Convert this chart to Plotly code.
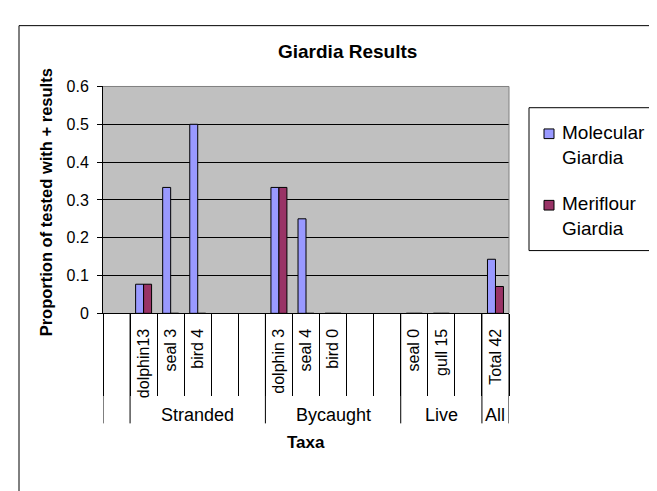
import plotly.graph_objects as go

W, H = 657, 491

# ---- data ----
taxa = ["", "dolphin13", "seal 3", "bird 4", "", "", "dolphin 3", "seal 4", "bird 0",
        "", "", "seal 0", "gull 15", "", "Total 42"]
group_names = ["", "Stranded", "Bycaught", "Live", "All"]
group_sizes = [1, 5, 5, 3, 1]
molecular = [None, 0.077, 0.333, 0.5, None, None, 0.333, 0.25, 0, None, None, 0, 0, None, 0.143]
meriflour = [None, 0.077, 0, 0, None, None, 0.333, 0, 0, None, None, 0, 0, None, 0.071]
y_ticks = [0, 0.1, 0.2, 0.3, 0.4, 0.5, 0.6]
y_tick_labels = ["0", "0.1", "0.2", "0.3", "0.4", "0.5", "0.6"]
series_names = ["Molecular<br>Giardia", "Meriflour<br>Giardia"]
colors = ["#9999FF", "#993366"]

FONT = "Liberation Sans, Arial, sans-serif"

# layout geometry (pixels)
L, R, T, B = 95, 501, 73, 308


def px(x):
    return x / W


def py(y):
    return 1 - y / H


xs = list(range(len(taxa)))

fig = go.Figure()
for vals, name, col in zip([molecular, meriflour], series_names, colors):
    fig.add_trace(go.Bar(
        x=xs, y=vals, name=name.replace("<br>", " "),
        marker=dict(color=col, line=dict(color="black", width=1)),
        showlegend=False,
    ))

shapes = []
# outer chart border (extends beyond the crop on right/bottom)
shapes.append(dict(type="rect", xref="paper", yref="paper",
                   x0=px(11), x1=px(W + 30), y0=py(H + 30), y1=py(10),
                   line=dict(color="black", width=1), layer="below"))
# plot area top and right border (gray)
shapes.append(dict(type="line", xref="paper", yref="paper",
                   x0=px(L), x1=px(R), y0=py(T), y1=py(T),
                   line=dict(color="#808080", width=1), layer="above"))
shapes.append(dict(type="line", xref="paper", yref="paper",
                   x0=px(R), x1=px(R), y0=py(T), y1=py(B),
                   line=dict(color="#808080", width=1), layer="above"))
# group divider lines
bounds = [-0.5]
for s in group_sizes:
    bounds.append(bounds[-1] + s)
for b in bounds:
    shapes.append(dict(type="line", xref="x", yref="paper",
                       x0=b, x1=b, y0=py(422), y1=py(B),
                       line=dict(color="black", width=1)))

annotations = []
# group labels
for i, g in enumerate(group_names):
    if g:
        annotations.append(dict(text=g, xref="x", yref="paper",
                                x=(bounds[i] + bounds[i + 1]) / 2, y=py(413),
                                xanchor="center", yanchor="middle", showarrow=False,
                                font=dict(family=FONT, size=18, color="black")))
# titles
annotations.append(dict(text="<b>Giardia Results</b>", xref="paper", yref="paper",
                        x=px(339.5), y=py(37), xanchor="center", yanchor="middle",
                        showarrow=False, font=dict(family=FONT, size=19, color="black")))
annotations.append(dict(text="<b>Proportion of tested with + results</b>", xref="paper", yref="paper",
                        x=px(38), y=py(193), xanchor="center", yanchor="middle", textangle=-90,
                        showarrow=False, font=dict(family=FONT, size=16.5, color="black")))
annotations.append(dict(text="<b>Taxa</b>", xref="paper", yref="paper",
                        x=px(298), y=py(442), xanchor="center", yanchor="middle",
                        showarrow=False, font=dict(family=FONT, size=17, color="black")))

# legend (drawn manually to match box layout)
shapes.append(dict(type="rect", xref="paper", yref="paper",
                   x0=px(521), x1=px(647), y0=py(243), y1=py(95),
                   line=dict(color="black", width=1), fillcolor="white"))
leg_centers = [122, 196]
text_centers = [133.5, 207]
for col, name, cy, ty in zip(colors, series_names, leg_centers, text_centers):
    shapes.append(dict(type="rect", xref="paper", yref="paper",
                       x0=px(536), x1=px(546), y0=py(cy + 5), y1=py(cy - 5),
                       line=dict(color="black", width=1), fillcolor=col))
    annotations.append(dict(text=name, xref="paper", yref="paper",
                            x=px(552), y=py(ty), xanchor="left", yanchor="middle",
                            align="left", showarrow=False,
                            font=dict(family=FONT, size=19, color="black")))

fig.update_layout(
    width=W, height=H,
    margin=dict(l=0, r=0, t=0, b=0),
    paper_bgcolor="white",
    plot_bgcolor="#C0C0C0",
    barmode="group", bargap=0.41, bargroupgap=0,
    font=dict(family=FONT, color="black"),
    shapes=shapes,
    annotations=annotations,
    showlegend=False,
    xaxis=dict(
        domain=[px(L), px(R)], range=[-0.5, len(taxa) - 0.5],
        tickmode="array", tickvals=xs, ticktext=taxa,
        ticks="", tickangle=-90, ticklabelstandoff=8,
        tickfont=dict(family=FONT, size=16, color="black"),
        showgrid=False, zeroline=False,
        showline=True, linecolor="black", linewidth=1,
        minor=dict(tickmode="array", tickvals=[b - 0.5 for b in range(len(taxa) + 1)],
                   ticks="outside", ticklen=82, tickcolor="black", tickwidth=1,
                   showgrid=False),
    ),
    yaxis=dict(
        domain=[py(B), py(T)], range=[0, 0.6],
        tickmode="array", tickvals=y_ticks, ticktext=y_tick_labels,
        ticks="outside", ticklen=5, tickcolor="black", tickwidth=1,
        ticklabelstandoff=5,
        tickfont=dict(family=FONT, size=16, color="black"),
        showgrid=True, gridcolor="black", gridwidth=1,
        zeroline=False, showline=True, linecolor="black", linewidth=1,
    ),
)

fig.write_html("out.html")
